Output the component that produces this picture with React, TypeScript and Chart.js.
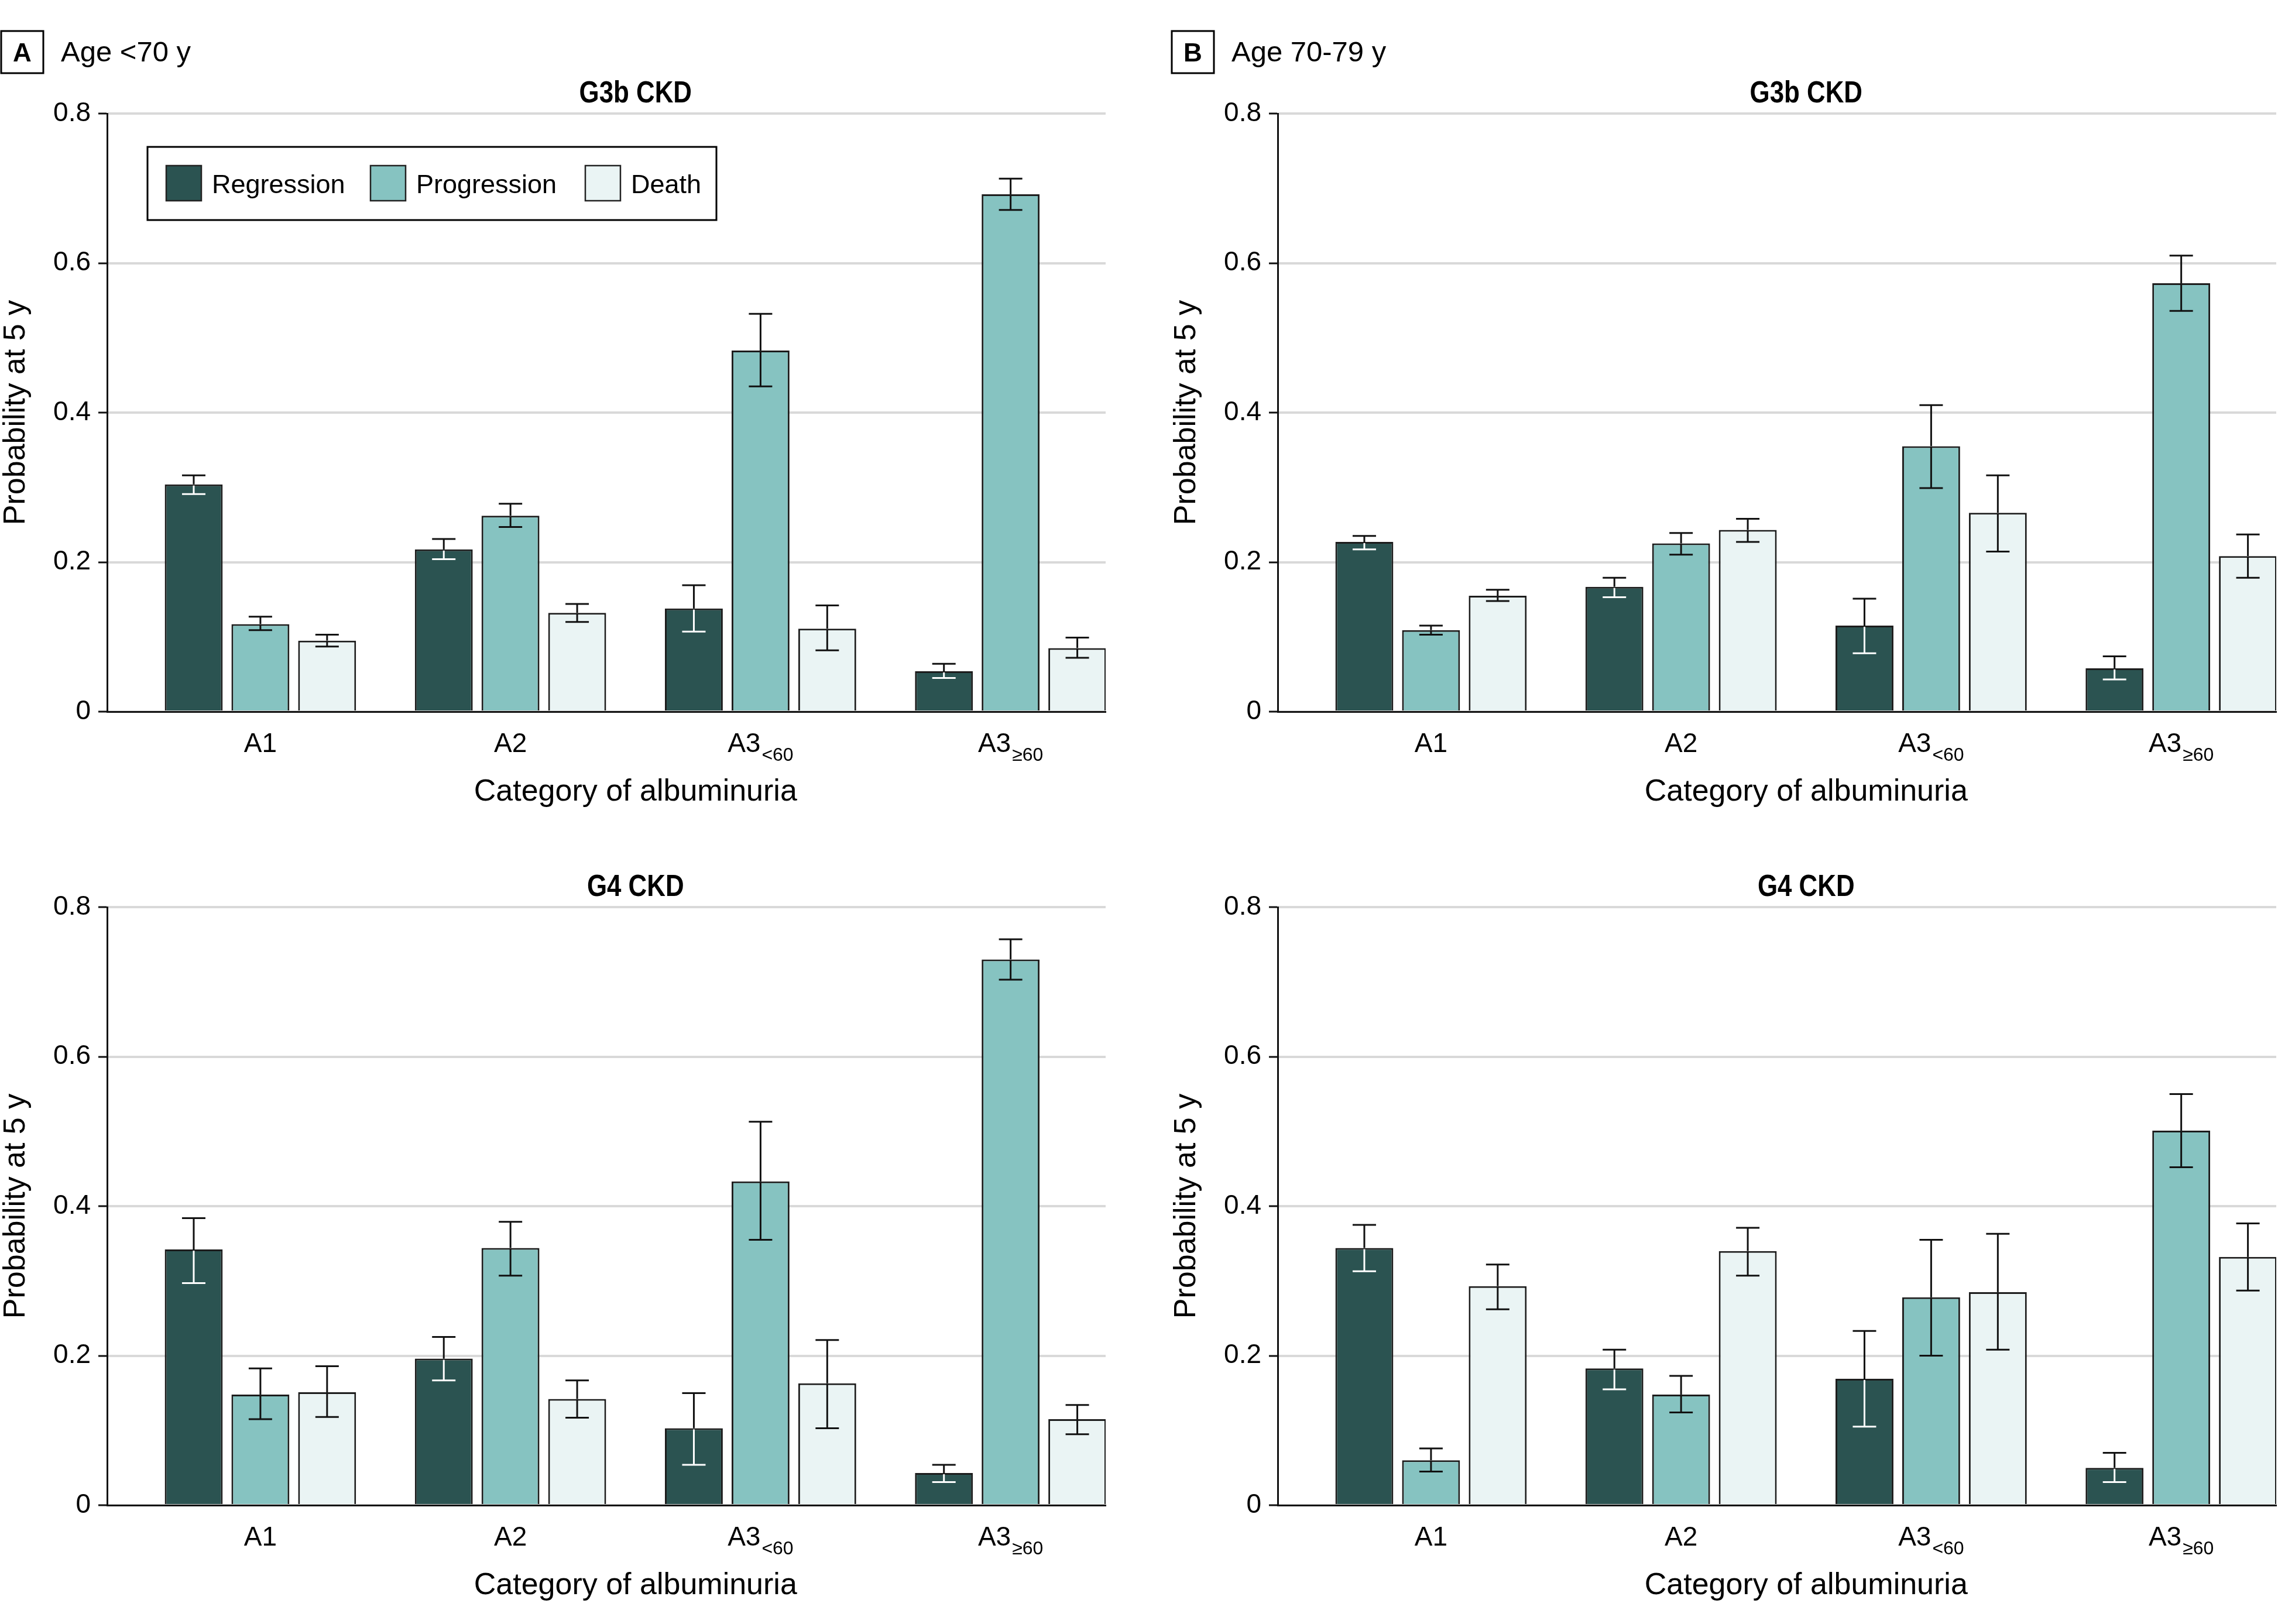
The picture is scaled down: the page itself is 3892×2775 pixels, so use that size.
import React, { useEffect, useRef } from 'react';
import { Chart, registerables } from 'chart.js';

Chart.register(...registerables);

// ---------- data ----------
const CATEGORY_BASE = ['A1', 'A2', 'A3', 'A3'];
const CATEGORY_SUB = ['', '', '<60', '≥60'];
const SERIES = ['Regression', 'Progression', 'Death'];
const SERIES_COLORS = ['#2b5351', '#86c3c1', '#eaf4f4'];
const Y_TICKS = [0, 0.2, 0.4, 0.6, 0.8];

// A: Age <70 y, G3b CKD
const G3B_LT70_REGRESSION = [0.304, 0.217, 0.138, 0.054];
const G3B_LT70_REGRESSION_CI = [[0.291, 0.316], [0.204, 0.231], [0.107, 0.169], [0.045, 0.064]];
const G3B_LT70_PROGRESSION = [0.117, 0.262, 0.483, 0.692];
const G3B_LT70_PROGRESSION_CI = [[0.109, 0.127], [0.247, 0.278], [0.435, 0.532], [0.671, 0.713]];
const G3B_LT70_DEATH = [0.095, 0.132, 0.111, 0.085];
const G3B_LT70_DEATH_CI = [[0.087, 0.103], [0.120, 0.144], [0.082, 0.142], [0.072, 0.099]];

// B: Age 70-79 y, G3b CKD
const G3B_70_79_REGRESSION = [0.227, 0.167, 0.115, 0.058];
const G3B_70_79_REGRESSION_CI = [[0.217, 0.235], [0.153, 0.179], [0.078, 0.151], [0.043, 0.074]];
const G3B_70_79_PROGRESSION = [0.109, 0.225, 0.355, 0.573];
const G3B_70_79_PROGRESSION_CI = [[0.103, 0.115], [0.210, 0.239], [0.299, 0.410], [0.536, 0.610]];
const G3B_70_79_DEATH = [0.155, 0.243, 0.266, 0.208];
const G3B_70_79_DEATH_CI = [[0.148, 0.163], [0.227, 0.258], [0.214, 0.316], [0.179, 0.237]];

// A: Age <70 y, G4 CKD
const G4_LT70_REGRESSION = [0.342, 0.196, 0.103, 0.043];
const G4_LT70_REGRESSION_CI = [[0.297, 0.384], [0.167, 0.225], [0.054, 0.150], [0.031, 0.054]];
const G4_LT70_PROGRESSION = [0.148, 0.344, 0.433, 0.730];
const G4_LT70_PROGRESSION_CI = [[0.115, 0.183], [0.307, 0.379], [0.355, 0.513], [0.703, 0.757]];
const G4_LT70_DEATH = [0.151, 0.142, 0.163, 0.115];
const G4_LT70_DEATH_CI = [[0.118, 0.186], [0.117, 0.167], [0.103, 0.221], [0.095, 0.134]];

// B: Age 70-79 y, G4 CKD
const G4_70_79_REGRESSION = [0.344, 0.183, 0.169, 0.050];
const G4_70_79_REGRESSION_CI = [[0.313, 0.375], [0.155, 0.208], [0.105, 0.233], [0.031, 0.070]];
const G4_70_79_PROGRESSION = [0.060, 0.148, 0.278, 0.501];
const G4_70_79_PROGRESSION_CI = [[0.045, 0.076], [0.124, 0.173], [0.200, 0.355], [0.452, 0.550]];
const G4_70_79_DEATH = [0.293, 0.340, 0.285, 0.332];
const G4_70_79_DEATH_CI = [[0.262, 0.322], [0.307, 0.371], [0.208, 0.363], [0.287, 0.377]];

// ---------- styling / layout ----------
const FONT = "'Liberation Sans', Arial, sans-serif";
const CANVAS_W = 1892;
const CANVAS_H = 1419;
const PLOT_BOTTOM = 1216;
const X_MIN = -0.613;
const X_MAX = 3.38;

type PanelSpec = {
  left: number;
  top: number;
  letter: string;
  ageLabel: string;
  subtitle: string;
  legend: boolean;
  values: number[][];
  cis: number[][][];
};

const PANELS: PanelSpec[] = [
  {
    left: 0, top: 0, letter: 'A', ageLabel: 'Age <70 y', subtitle: 'G3b CKD', legend: true,
    values: [G3B_LT70_REGRESSION, G3B_LT70_PROGRESSION, G3B_LT70_DEATH],
    cis: [G3B_LT70_REGRESSION_CI, G3B_LT70_PROGRESSION_CI, G3B_LT70_DEATH_CI],
  },
  {
    left: 2000, top: 0, letter: 'B', ageLabel: 'Age 70-79 y', subtitle: 'G3b CKD', legend: false,
    values: [G3B_70_79_REGRESSION, G3B_70_79_PROGRESSION, G3B_70_79_DEATH],
    cis: [G3B_70_79_REGRESSION_CI, G3B_70_79_PROGRESSION_CI, G3B_70_79_DEATH_CI],
  },
  {
    left: 0, top: 1356, letter: '', ageLabel: '', subtitle: 'G4 CKD', legend: false,
    values: [G4_LT70_REGRESSION, G4_LT70_PROGRESSION, G4_LT70_DEATH],
    cis: [G4_LT70_REGRESSION_CI, G4_LT70_PROGRESSION_CI, G4_LT70_DEATH_CI],
  },
  {
    left: 2000, top: 1356, letter: '', ageLabel: '', subtitle: 'G4 CKD', legend: false,
    values: [G4_70_79_REGRESSION, G4_70_79_PROGRESSION, G4_70_79_DEATH],
    cis: [G4_70_79_REGRESSION_CI, G4_70_79_PROGRESSION_CI, G4_70_79_DEATH_CI],
  },
];

const errorBarPlugin = {
  id: 'errorBars',
  afterDatasetsDraw(chart: any) {
    const ctx = chart.ctx;
    const yScale = chart.scales.y;
    chart.data.datasets.forEach((ds: any, di: number) => {
      const meta = chart.getDatasetMeta(di);
      const insideColor = di === 0 ? '#ffffff' : '#111111';
      meta.data.forEach((bar: any, i: number) => {
        const [lo, hi] = ds.ci[i];
        const x = bar.x;
        const top = bar.y;
        const yLo = yScale.getPixelForValue(lo);
        const yHi = yScale.getPixelForValue(hi);
        const half = 20;
        ctx.save();
        ctx.lineWidth = 3;
        ctx.lineCap = 'butt';
        if (yHi < top) {
          ctx.strokeStyle = '#111111';
          ctx.beginPath();
          ctx.moveTo(x, yHi);
          ctx.lineTo(x, Math.min(top, yLo));
          ctx.stroke();
        }
        if (yLo > top) {
          ctx.strokeStyle = insideColor;
          ctx.beginPath();
          ctx.moveTo(x, Math.max(top + 2, yHi));
          ctx.lineTo(x, yLo);
          ctx.stroke();
        }
        ctx.strokeStyle = yHi < top ? '#111111' : insideColor;
        ctx.beginPath();
        ctx.moveTo(x - half, yHi);
        ctx.lineTo(x + half, yHi);
        ctx.stroke();
        ctx.strokeStyle = yLo > top ? insideColor : '#111111';
        ctx.beginPath();
        ctx.moveTo(x - half, yLo);
        ctx.lineTo(x + half, yLo);
        ctx.stroke();
        ctx.restore();
      });
    });
  },
};

function makeTextPlugin(spec: PanelSpec) {
  return {
    id: 'panelText',
    afterDraw(chart: any) {
      const ctx = chart.ctx;
      const xs = chart.scales.x;
      const centerX = xs.getPixelForValue(1.5);
      ctx.save();
      ctx.fillStyle = '#000';
      ctx.strokeStyle = '#000';
      ctx.textBaseline = 'alphabetic';

      // header
      if (spec.letter) {
        ctx.lineWidth = 3;
        ctx.strokeRect(2, 53, 72, 72);
        ctx.font = `bold 44px ${FONT}`;
        ctx.textAlign = 'center';
        ctx.fillText(spec.letter, 38, 105);
        ctx.font = `49px ${FONT}`;
        ctx.textAlign = 'left';
        ctx.fillText(spec.ageLabel, 104, 105);
      }

      // subtitle (condensed bold)
      ctx.save();
      ctx.font = `bold 51px ${FONT}`;
      ctx.textAlign = 'center';
      ctx.translate(centerX, 175);
      ctx.scale(0.86, 1);
      ctx.fillText(spec.subtitle, 0, 0);
      ctx.restore();

      // x tick labels with subscripts
      CATEGORY_BASE.forEach((base, i) => {
        const cx = xs.getPixelForValue(i);
        const sub = CATEGORY_SUB[i];
        ctx.font = `46px ${FONT}`;
        const wBase = ctx.measureText(base).width;
        ctx.font = `32px ${FONT}`;
        const wSub = sub ? ctx.measureText(sub).width + 2 : 0;
        const start = cx - (wBase + wSub) / 2;
        ctx.textAlign = 'left';
        ctx.font = `46px ${FONT}`;
        ctx.fillText(base, start, 1285);
        if (sub) {
          ctx.font = `32px ${FONT}`;
          ctx.fillText(sub, start + wBase + 2, 1300);
        }
      });

      // x axis title
      ctx.font = `52px ${FONT}`;
      ctx.textAlign = 'center';
      ctx.fillText('Category of albuminuria', centerX, 1368);

      // legend
      if (spec.legend) {
        ctx.lineWidth = 3;
        ctx.strokeRect(252, 251, 972, 125);
        const swatchX = [284, 633, 1000];
        SERIES.forEach((name, s) => {
          ctx.fillStyle = SERIES_COLORS[s];
          ctx.fillRect(swatchX[s], 283, 60, 60);
          ctx.lineWidth = 2.5;
          ctx.strokeStyle = '#222';
          ctx.strokeRect(swatchX[s], 283, 60, 60);
          ctx.fillStyle = '#000';
          ctx.font = `45px ${FONT}`;
          ctx.textAlign = 'left';
          ctx.fillText(name, swatchX[s] + 78, 330);
        });
      }
      ctx.restore();
    },
  };
}

function makeConfig(spec: PanelSpec): any {
  return {
    type: 'bar',
    data: {
      datasets: SERIES.map((name, s) => ({
        label: name,
        data: spec.values[s].map((v, i) => ({ x: i, y: v })),
        ci: spec.cis[s],
        backgroundColor: SERIES_COLORS[s],
        borderColor: '#1c1c1c',
        borderWidth: 3,
        borderSkipped: 'start',
        categoryPercentage: 0.8,
        barPercentage: 0.868,
      })),
    },
    options: {
      responsive: false,
      animation: false,
      devicePixelRatio: 1,
      layout: { padding: { top: 194, right: 3, left: 0, bottom: 0 } },
      plugins: {
        legend: { display: false },
        tooltip: { enabled: false },
        title: { display: false },
      },
      scales: {
        x: {
          type: 'linear',
          min: X_MIN,
          max: X_MAX,
          bounds: 'data',
          offset: false,
          grid: { display: false, drawTicks: false },
          border: { display: true, color: '#111', width: 3 },
          ticks: { display: false },
          afterBuildTicks: (scale: any) => {
            scale.ticks = CATEGORY_BASE.map((_, i) => ({ value: i }));
          },
          afterFit: (scale: any) => {
            scale.height = CANVAS_H - PLOT_BOTTOM;
          },
        },
        y: {
          type: 'linear',
          min: 0,
          max: 0.8,
          bounds: 'data',
          afterBuildTicks: (scale: any) => {
            scale.ticks = Y_TICKS.map((v) => ({ value: v }));
          },
          ticks: {
            padding: 13,
            color: '#000',
            font: { family: FONT, size: 46 },
            callback: (v: number) => (v === 0 ? '0' : Number(v).toFixed(1)),
          },
          grid: {
            color: '#d9d9d9',
            lineWidth: 4,
            tickColor: '#111',
            tickWidth: 3,
            tickLength: 15,
            drawTicks: true,
          },
          border: { display: true, color: '#111', width: 3 },
          title: {
            display: true,
            text: 'Probability at 5 y',
            color: '#000',
            font: { family: FONT, size: 52, lineHeight: 1.05 },
            padding: 0,
          },
          afterFit: (scale: any) => {
            scale.width = 183;
          },
        },
      },
    },
    plugins: [errorBarPlugin, makeTextPlugin(spec)],
  };
}

function Panel({ spec }: { spec: PanelSpec }) {
  const ref = useRef<HTMLCanvasElement | null>(null);
  useEffect(() => {
    if (!ref.current) return;
    const chart = new Chart(ref.current, makeConfig(spec));
    return () => chart.destroy();
  }, [spec]);
  return (
    <canvas
      ref={ref}
      width={CANVAS_W}
      height={CANVAS_H}
      style={{ position: 'absolute', left: spec.left, top: spec.top, width: CANVAS_W, height: CANVAS_H }}
    />
  );
}

export default function App() {
  return (
    <div style={{ position: 'absolute', left: 0, top: 0, width: 3892, height: 2775, background: '#fff', overflow: 'hidden' }}>
      {PANELS.map((p, i) => (
        <Panel key={i} spec={p} />
      ))}
    </div>
  );
}
